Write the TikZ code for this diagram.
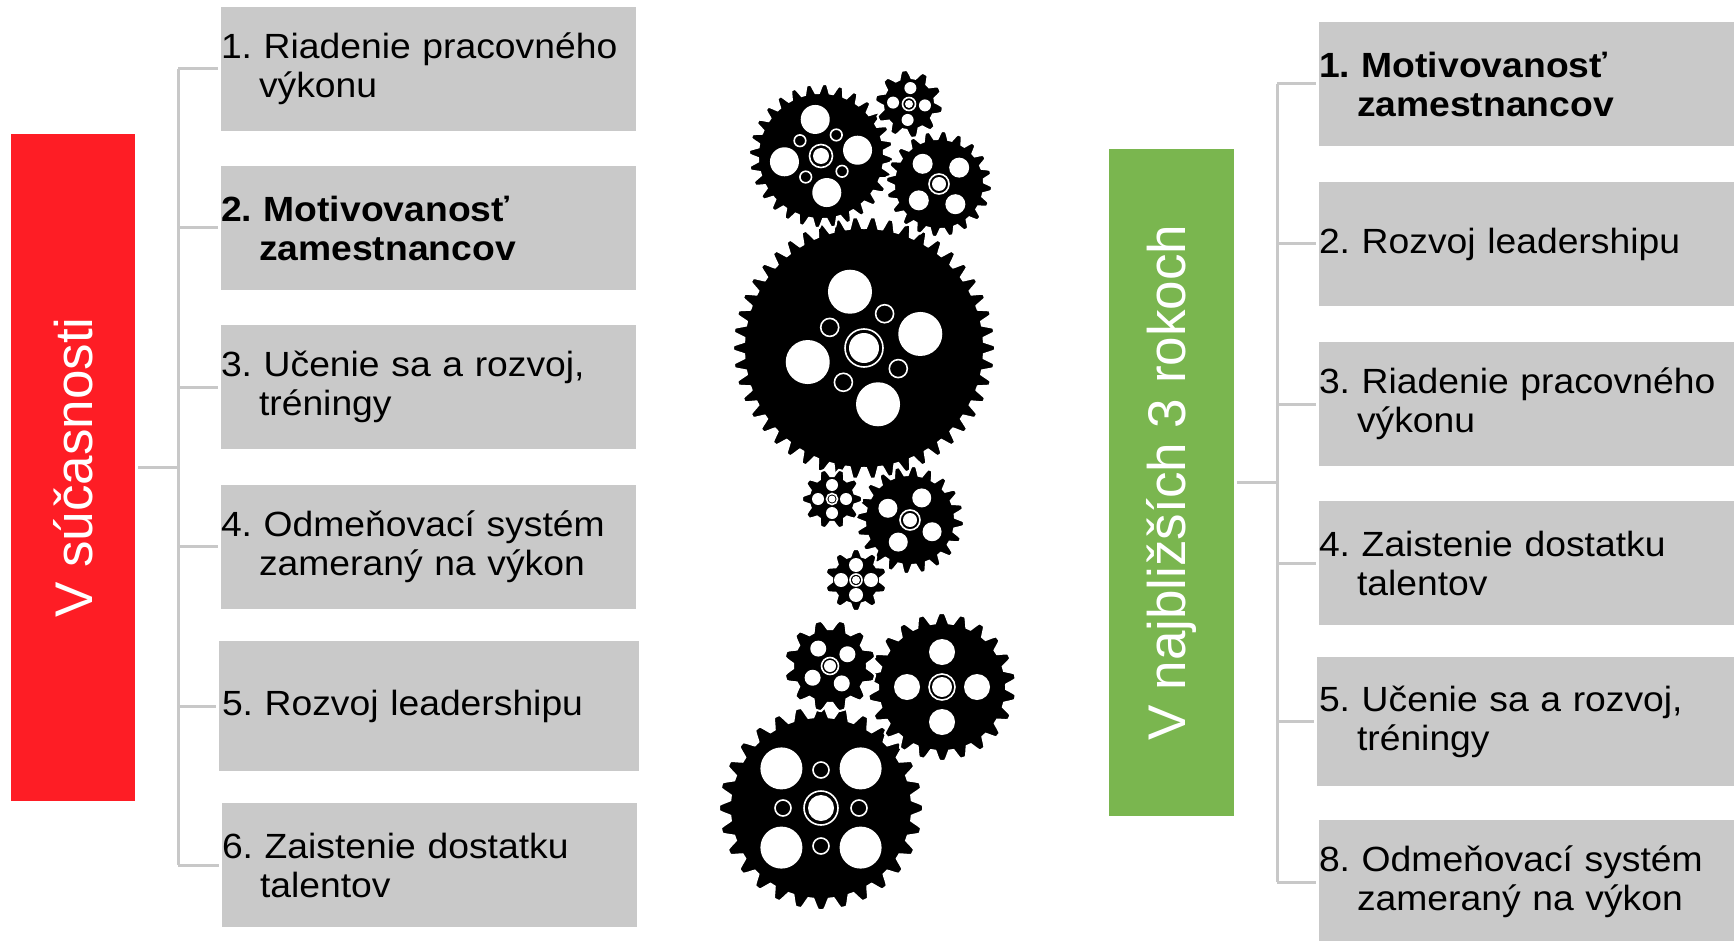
\documentclass[tikz,border=0pt]{standalone}
\usepackage{fontspec}
\setmainfont[FakeStretch=1.065]{Liberation Sans}
\newfontfamily\tagfamily{Liberation Sans}
\usepackage{graphicx}
\frenchspacing
\definecolor{boxgrey}{HTML}{C9C9C9}
\definecolor{linegrey}{HTML}{C8C8C8}
\definecolor{tagred}{HTML}{FE1D25}
\definecolor{taggreen}{HTML}{7AB64F}
\newcommand{\boxfont}{\frenchspacing\fontsize{17.5pt}{19.5pt}\selectfont}
\newcommand{\tagfont}{\tagfamily\fontsize{26.5pt}{28pt}\selectfont}
\newcommand{\ind}{\hspace*{19pt}}
% gear body: cx cy N root tip phase
\newcommand{\gearbody}[6]{%
  \pgfmathtruncatemacro{\gearns}{16*#3+1}%
  \pgfmathsetmacro{\gearstep}{360/#3}%
  \fill[black, draw=white, line width=1pt, shift={(#1,#2)}]
    plot[domain=0:#3, samples=\gearns, variable=\gu]
    ({\gearstep*\gu+#6}:{#4+(#5-#4)*(0.5+0.5*max(-1,min(1,1.4*cos(360*(\gu-floor(\gu))))))}) -- cycle;}
% holes: cx cy dist r base
\newcommand{\gearholes}[5]{%
  \foreach \ga in {0,90,180,270}{\fill[white, shift={(#1,#2)}] ({#5+\ga}:#3) circle (#4);}}
\newcommand{\gearrings}[5]{%
  \foreach \ga in {0,90,180,270}{\draw[white, line width=0.8pt, shift={(#1,#2)}] ({#5+\ga}:#3) circle (#4);}}
% hub: cx cy disk ring
\newcommand{\gearhub}[4]{%
  \fill[white] (#1,#2) circle (#3);
  \draw[white, line width=0.8pt] (#1,#2) circle (#4);}
\tikzset{
  gbox/.style={fill=boxgrey, draw=none, inner sep=0pt, text width=207.5pt,
    minimum height=62pt, align=left, font=\boxfont, text=black},
  tagbox/.style={draw=none, inner sep=0pt, minimum width=62pt, minimum height=333.5pt,
    text=white, font=\tagfont},
  conn/.style={draw=linegrey, line width=1.5pt},
}
\begin{document}
\begin{tikzpicture}[x=0.5pt, y=-0.5pt]
\useasboundingbox (0,0) rectangle (1734,941);
\fill[white] (0,0) rectangle (1734,941);

% ---- left side
\node[tagbox, fill=tagred] (now) at (73,467.5) {\rotatebox{90}{V súčasnosti}};
\node[gbox] (l1) at (428.5,69) {1. Riadenie pracovného\\\ind výkonu};
\node[gbox, font=\boxfont\bfseries] (l2) at (428.5,228) {2. Motivovanosť\\\ind zamestnancov};
\node[gbox] (l3) at (428.5,387) {3. Učenie sa a rozvoj,\\\ind tréningy};
\node[gbox] (l4) at (428.5,546.5) {4. Odmeňovací systém\\\ind zameraný na výkon};
\node[gbox, text width=210pt, minimum height=65pt] (l5) at (429,706) {\hspace*{1.5pt}5. Rozvoj leadershipu};
\node[gbox] (l6) at (429.5,865) {6. Zaistenie dostatku\\\ind talentov};

\coordinate (ltrunk) at (178,467.5);
\draw[conn] ([xshift=1.5pt]now.east) -- (ltrunk);
\draw[conn] (ltrunk |- l1.west) -- (ltrunk |- l6.west);
\foreach \n in {l1,l2,l3,l4,l5,l6}{
  \draw[conn] (ltrunk |- \n.west) -- ([xshift=-1.5pt]\n.west);
}

% ---- right side
\node[tagbox, fill=taggreen, minimum width=62.5pt] (next) at (1171.5,482.5) {\rotatebox{90}{V najbližších 3 rokoch}};
\node[gbox, font=\boxfont\bfseries] (r1) at (1526.5,84) {1. Motivovanosť\\\ind zamestnancov};
\node[gbox] (r2) at (1526.5,244) {2. Rozvoj leadershipu};
\node[gbox] (r3) at (1526.5,404) {3. Riadenie pracovného\\\ind výkonu};
\node[gbox] (r4) at (1526.5,563) {4. Zaistenie dostatku\\\ind talentov};
\node[gbox, text width=208.5pt, minimum height=64.5pt] (r5) at (1525.5,721.5) {\hspace*{1pt}5. Učenie sa a rozvoj,\\\hspace*{1pt}\ind tréningy};
\node[gbox] (r6) at (1526.5,882) {8. Odmeňovací systém\\\ind zameraný na výkon};

\coordinate (rtrunk) at (1277,482.5);
\draw[conn] ([xshift=1.5pt]next.east) -- (rtrunk);
\draw[conn] (rtrunk |- r1.west) -- (rtrunk |- r6.west);
\foreach \n in {r1,r2,r3,r4,r5,r6}{
  \draw[conn] (rtrunk |- \n.west) -- ([xshift=-1.5pt]\n.west);
}

% ---- gears, upper cluster
\gearbody{864}{348}{46}{120}{131}{0}
\gearholes{864}{348}{58}{22}{-14}
\gearrings{864}{348}{40}{9}{31}
\gearhub{864}{348}{15}{19}

\gearbody{821}{156}{28}{63}{72}{3}
\gearholes{821}{156}{37}{14.5}{-9}
\gearrings{821}{156}{26}{5.8}{36}
\gearhub{821}{156}{8}{11.5}

\gearbody{939}{184}{20}{45}{53}{5}
\gearholes{939}{184}{26}{10}{-39}
\gearhub{939}{184}{7}{10}

\gearbody{909}{104}{10}{26}{34}{10}
\gearholes{909}{104}{16}{6}{5}
\gearhub{909}{104}{4}{6.5}

% middle cluster
\gearbody{910}{520}{20}{45}{54}{4}
\gearholes{910}{520}{25}{9.5}{28}
\gearhub{910}{520}{7}{10}

\gearbody{832}{499}{10}{23}{30}{0}
\gearholes{832}{499}{14}{6}{0}
\gearhub{832}{499}{3.5}{5.5}

\gearbody{856}{580}{10}{24}{31}{18}
\gearholes{856}{580}{15}{7}{0}
\gearhub{856}{580}{4}{6}

% lower cluster
\gearbody{821}{808}{28}{91}{102}{0}
\gearholes{821}{808}{56}{21}{45}
\gearrings{821}{808}{38}{8}{0}
\gearhub{821}{808}{13}{17}

\gearbody{942}{687}{22}{64}{74}{8}
\gearholes{942}{687}{35}{13}{0}
\gearhub{942}{687}{10}{13}

\gearbody{830}{666}{12}{37}{46}{15}
\gearholes{830}{666}{21}{8}{56}
\gearhub{830}{666}{6}{8.5}
\end{tikzpicture}
\end{document}
